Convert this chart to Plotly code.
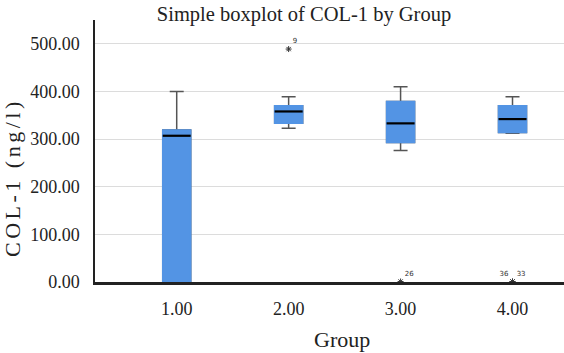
import plotly.graph_objects as go

groups = [1, 2, 3, 4]
group_labels = ["1.00", "2.00", "3.00", "4.00"]
q1 = [0, 333, 293, 314]
median = [307, 358, 333, 342]
q3 = [319, 370, 379, 370]
lower_whisker = [0, 323, 276, 312]
upper_whisker = [400, 389, 410, 389]

outlier_x = [2, 3, 4, 4]
outlier_y = [489, 1, 1, 1]
outlier_ids = ["9", "26", "36", "33"]
outlier_pos = ["top right", "top right", "top left", "top right"]

yticks = [0, 100, 200, 300, 400, 500]
ytick_labels = ["0.00", "100.00", "200.00", "300.00", "400.00", "500.00"]

BLUE = "#5394e4"
BOX_W = 0.25
serif = "Liberation Serif"
INK = "#222222"

fig = go.Figure()
# whiskers (gray) with full box
fig.add_trace(go.Box(x=groups, q1=q1, median=median, q3=q3,
                     lowerfence=lower_whisker, upperfence=upper_whisker,
                     width=BOX_W, whiskerwidth=0.5, fillcolor=BLUE,
                     line=dict(color="#555555", width=1.5), boxpoints=False,
                     showlegend=False, hoverinfo="skip"))
# blue box cover (hides gray outline)
fig.add_trace(go.Box(x=groups, q1=q1, median=median, q3=q3,
                     lowerfence=q1, upperfence=q3,
                     width=BOX_W, whiskerwidth=0, fillcolor=BLUE,
                     line=dict(color=BLUE, width=1.5), boxpoints=False,
                     showlegend=False, hoverinfo="skip"))
# median lines
mx, my = [], []
for g, m in zip(groups, median):
    mx += [g - BOX_W / 2, g + BOX_W / 2, None]
    my += [m, m, None]
fig.add_trace(go.Scatter(x=mx, y=my, mode="lines",
                         line=dict(color="black", width=2.2),
                         showlegend=False, hoverinfo="skip"))
# outliers
for x, y, t, p in zip(outlier_x, outlier_y, outlier_ids, outlier_pos):
    fig.add_trace(go.Scatter(x=[x], y=[y], mode="markers+text",
                             marker=dict(symbol="asterisk-open", size=5, color="#333333",
                                         line=dict(color="#333333", width=1)),
                             text=[t], textposition=p,
                             textfont=dict(family="DejaVu Sans", size=7, color="#333333"),
                             showlegend=False, hoverinfo="skip"))

pw, ph = 564 - 95, 353 - 20 - 71

fig.update_layout(
    width=564, height=353,
    margin=dict(l=95, r=0, t=20, b=71),
    paper_bgcolor="white", plot_bgcolor="white",
    boxmode="overlay",
    font=dict(family=serif, color=INK),
    title=dict(text="Simple boxplot of COL-1 by Group", x=0.539, xref="container",
               xanchor="center", y=0.962, yref="container", yanchor="middle",
               font=dict(family=serif, size=20.5, color=INK)),
    xaxis=dict(range=[0.27, 4.46], tickvals=groups, ticktext=group_labels,
               showgrid=False, zeroline=False, showline=True, linecolor=INK,
               linewidth=2.5, ticks="", ticklabelstandoff=9,
               tickfont=dict(family=serif, size=18, color=INK)),
    yaxis=dict(range=[0, 550], tickvals=yticks, ticktext=ytick_labels,
               showgrid=True, gridcolor="#dcdcdc", gridwidth=1, zeroline=False,
               showline=True, linecolor=INK, linewidth=1.5, ticks="",
               ticklabelstandoff=10,
               tickfont=dict(family=serif, size=18, color=INK)),
    annotations=[
        dict(text="Group", xref="paper", yref="paper",
             x=(342 - 95) / pw, y=(353 - 71 - 339) / ph,
             xanchor="center", yanchor="middle", showarrow=False,
             font=dict(family=serif, size=22, color=INK)),
        dict(text='<span style="letter-spacing:3.5px">COL-1 (ng/l)</span>',
             textangle=-90, xref="paper", yref="paper",
             x=(12 - 95) / pw, y=(353 - 71 - 178) / ph,
             xanchor="center", yanchor="middle", showarrow=False,
             font=dict(family=serif, size=22, color=INK)),
    ],
)

fig.write_html("out.html")
